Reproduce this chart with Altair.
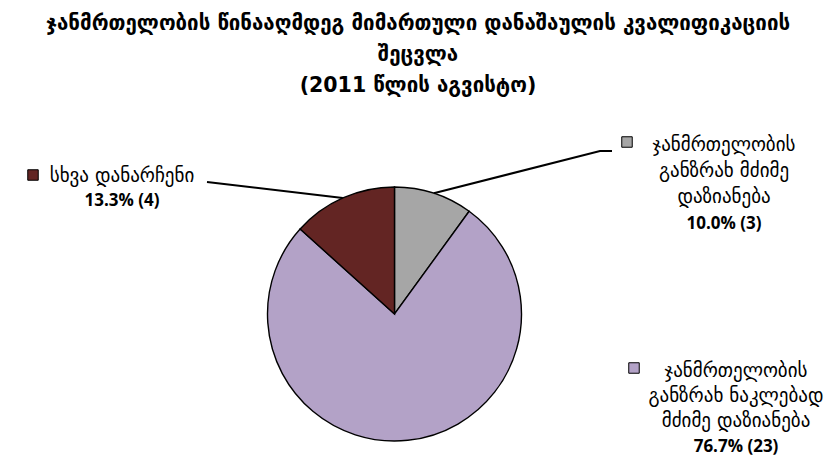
import math
import altair as alt
import pandas as pd

# ---- data ----
categories = [
    "ჯანმრთელობის განზრახ მძიმე დაზიანება",
    "ჯანმრთელობის განზრახ ნაკლებად მძიმე დაზიანება",
    "სხვა დანარჩენი",
]
label_lines = [
    ["ჯანმრთელობის", "განზრახ მძიმე", "დაზიანება"],
    ["ჯანმრთელობის", "განზრახ ნაკლებად", "მძიმე დაზიანება"],
    ["სხვა დანარჩენი"],
]
counts = [3, 23, 4]
colors = ["#A6A6A6", "#B3A2C7", "#632523"]
title_lines = [
    "ჯანმრთელობის წინააღმდეგ მიმართული დანაშაულის  კვალიფიკაციის",
    "შეცვლა",
    "(2011 წლის  აგვისტო)",
]

# ---- layout (plot-area pixel coordinates) ----
W, H = 820, 349
CX, CY, R = 386.5, 206, 127
label_layout = [  # text centre x, first line y, line spacing, marker x, marker y, leader points
    dict(tx=716, ty=37, lh=26, mx=619, my=34, leader=[(592, 43), (604, 43)]),
    dict(tx=728, ty=263, lh=25, mx=626, my=260, leader=[]),
    dict(tx=114, ty=68, lh=24, mx=25, my=67, leader=[(199, 74)]),
]

total = sum(counts)
pie_df = pd.DataFrame({
    "category": categories,
    "count": counts,
    "order": list(range(len(categories))),
})

text_rows, value_rows, marker_rows, leader_rows = [], [], [], []
cum = 0
for i, (cat, n) in enumerate(zip(categories, counts)):
    lay = label_layout[i]
    lines = label_lines[i]
    for j, t in enumerate(lines):
        text_rows.append(dict(x=lay["tx"], y=lay["ty"] + j * lay["lh"], text=t))
    pct = n / total * 100
    value_rows.append(dict(x=lay["tx"], y=lay["ty"] + len(lines) * lay["lh"] + 1,
                           text=f"{pct:.1f}% ({n})"))
    marker_rows.append(dict(x=lay["mx"], y=lay["my"], category=cat))
    mid = (cum + n / 2) / total * 2 * math.pi
    cum += n
    if lay["leader"]:
        pts = [(CX + R * math.sin(mid), CY - R * math.cos(mid))] + lay["leader"]
        for k, (px, py) in enumerate(pts):
            leader_rows.append(dict(x=px, y=py, k=k, category=cat))

color_scale = alt.Scale(domain=categories, range=colors)
xs = alt.Scale(domain=[0, W], range=[0, W])
ys = alt.Scale(domain=[0, H], range=[0, H])

pie = alt.Chart(pie_df).mark_arc(
    outerRadius=R, stroke="black", strokeWidth=1.4
).encode(
    theta=alt.Theta("count:Q", stack=True),
    order=alt.Order("order:Q"),
    color=alt.Color("category:N", scale=color_scale, legend=None),
    x=alt.value(CX),
    y=alt.value(CY),
)

leaders = alt.Chart(pd.DataFrame(leader_rows)).mark_line(
    color="black", strokeWidth=2
).encode(
    x=alt.X("x:Q", scale=xs, axis=None),
    y=alt.Y("y:Q", scale=ys, axis=None),
    detail="category:N",
    order="k:Q",
)

markers = alt.Chart(pd.DataFrame(marker_rows)).mark_point(
    shape="square", filled=True, size=110, stroke="black", strokeWidth=1, opacity=1
).encode(
    x=alt.X("x:Q", scale=xs, axis=None),
    y=alt.Y("y:Q", scale=ys, axis=None),
    fill=alt.Fill("category:N", scale=color_scale, legend=None),
)

names = alt.Chart(pd.DataFrame(text_rows)).mark_text(
    font="DejaVu Sans", fontSize=19, align="center", baseline="middle", color="black"
).encode(
    x=alt.X("x:Q", scale=xs, axis=None),
    y=alt.Y("y:Q", scale=ys, axis=None),
    text="text:N",
)

values = alt.Chart(pd.DataFrame(value_rows)).mark_text(
    font="Open Sans", fontSize=17, fontWeight="bold", align="center", baseline="middle",
    color="black"
).encode(
    x=alt.X("x:Q", scale=xs, axis=None),
    y=alt.Y("y:Q", scale=ys, axis=None),
    text="text:N",
)

chart = alt.layer(pie, leaders, markers, names, values).properties(
    width=W, height=H,
    padding={"left": 0, "right": 0, "top": 100, "bottom": 0},
    autosize=alt.AutoSizeParams(type="none"),
    title=alt.TitleParams(
        text=title_lines, font="DejaVu Sans", fontSize=20.5, fontWeight="bold",
        anchor="middle", lineHeight=31, offset=12, color="black",
    ),
).configure_view(stroke="transparent")

chart.save("out.html", embed_options={"renderer": "svg", "actions": False})
